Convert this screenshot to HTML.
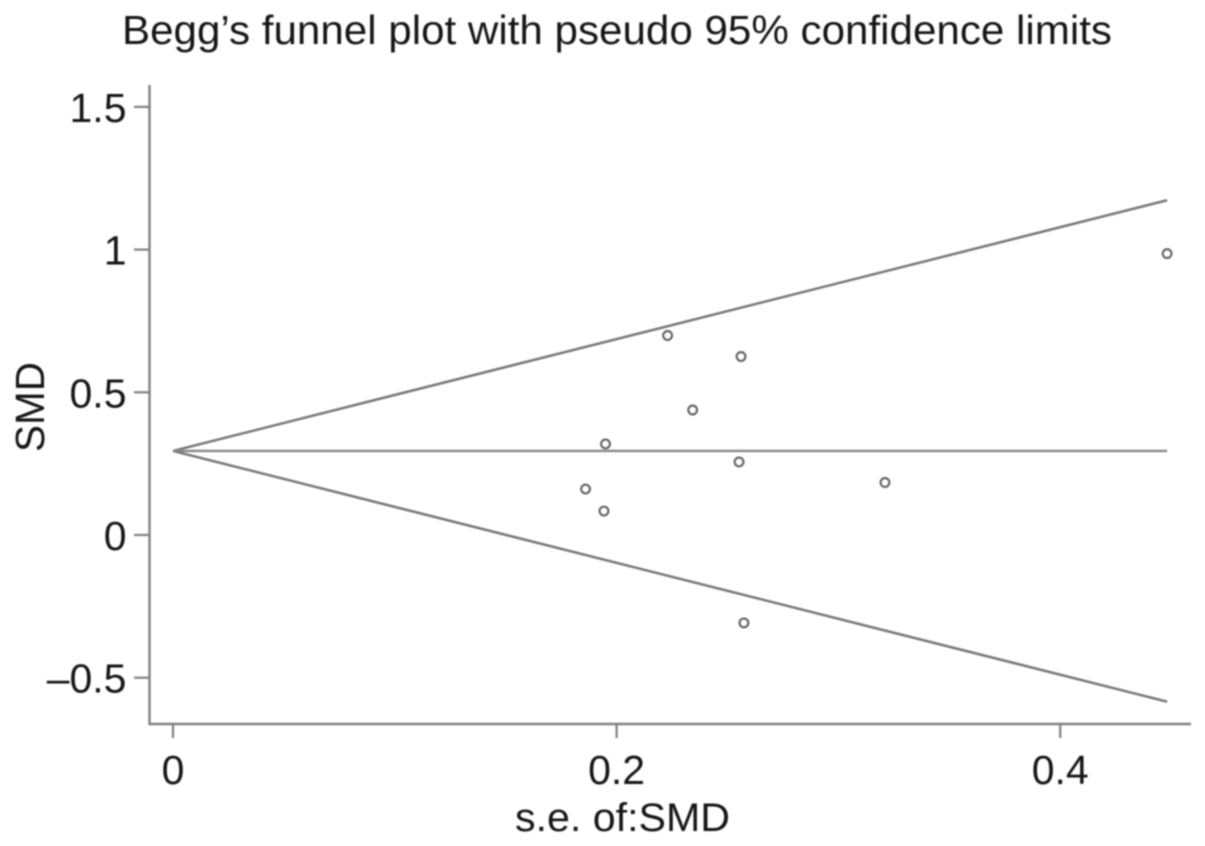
<!DOCTYPE html>
<html lang="en">
<head>
<meta charset="utf-8">
<title>Begg's funnel plot</title>
<style>
html,body{margin:0;padding:0;background:#fff;width:1205px;height:846px;overflow:hidden}
svg{display:block}
text{font-family:"Liberation Sans",sans-serif;fill:#161616}
</style>
</head>
<body>
<svg id="chart" xmlns="http://www.w3.org/2000/svg" width="1205" height="846" viewBox="0 0 1205 846">
  <defs><filter id="soft" x="-5%" y="-5%" width="110%" height="110%"><feGaussianBlur stdDeviation="0.7"/></filter></defs>
  <g id="root" filter="url(#soft)">
    <text x="617" y="44" font-size="41" text-anchor="middle" textLength="990" lengthAdjust="spacingAndGlyphs">Begg’s funnel plot with pseudo 95% confidence limits</text>
    <text x="622.5" y="831" font-size="40" text-anchor="middle" textLength="215" lengthAdjust="spacingAndGlyphs">s.e. of:SMD</text>
    <text transform="translate(44,407) rotate(-90)" font-size="41" text-anchor="middle" textLength="90" lengthAdjust="spacingAndGlyphs">SMD</text>
    <line x1="149.5" y1="85" x2="149.5" y2="725" stroke="#808080" stroke-width="2.4"/>
    <line x1="148.5" y1="724" x2="1191" y2="724" stroke="#808080" stroke-width="2.6"/>
  </g>
</svg>
<script>
const xTicks = [0, 0.2, 0.4];
const xTickLabels = ['0', '0.2', '0.4'];
const yTicks = [1.5, 1, 0.5, 0, -0.5];
const yTickLabels = ['1.5', '1', '0.5', '0', '\u20130.5'];
const studySE = [0.223, 0.2561, 0.2343, 0.195, 0.2552, 0.186, 0.1943, 0.2574, 0.321, 0.4482];
const studySMD = [0.699, 0.6254, 0.438, 0.319, 0.256, 0.161, 0.084, -0.308, 0.184, 0.986];
const pooledSMD = [0.2945];
const limitZ = [1.96];

const NS = 'http://www.w3.org/2000/svg';
const root = document.getElementById('root');
function sx(v) { return 173 + v * 2218; }
function sy(v) { return 535 - v * 285.4; }
function make(tag, attrs) {
  const el = document.createElementNS(NS, tag);
  for (const k in attrs) el.setAttribute(k, attrs[k]);
  root.appendChild(el);
  return el;
}

xTicks.forEach(function (t, i) {
  const tick = make('line', { x1: sx(t), x2: sx(t), y1: 724, y2: 738, stroke: '#808080', 'stroke-width': 2.2 });
  
  
  const label = make('text', { x: sx(t), y: 784, 'font-size': 41, 'text-anchor': 'middle' });
  label.textContent = xTickLabels[i];
  
  
});

yTicks.forEach(function (t, i) {
  const tick = make('line', { x1: 134, x2: 149, y1: sy(t), y2: sy(t), stroke: '#808080', 'stroke-width': 2.2 });
  
  
  const label = make('text', { x: 126.5, y: sy(t) + 15, 'font-size': 41, 'text-anchor': 'end' });
  label.textContent = yTickLabels[i];
  
  
});

const seMax = Math.max.apply(null, studySE);
const center = pooledSMD[0];
const z = limitZ[0];

const upper = make('line', { x1: sx(0), y1: sy(center), x2: sx(seMax), y2: sy(center + z * seMax), stroke: '#777', 'stroke-width': 2.5 });



const lower = make('line', { x1: sx(0), y1: sy(center), x2: sx(seMax), y2: sy(center - z * seMax), stroke: '#777', 'stroke-width': 2.5 });



const mid = make('line', { x1: sx(0), y1: sy(center), x2: sx(seMax), y2: sy(center), stroke: '#888', 'stroke-width': 2.4 });



studySE.forEach(function (se, i) {
  const pt = make('circle', { cx: sx(se), cy: sy(studySMD[i]), r: 4.3, fill: '#fff', stroke: '#606060', 'stroke-width': 2.3 });
  
  
});
</script>
</body>
</html>
